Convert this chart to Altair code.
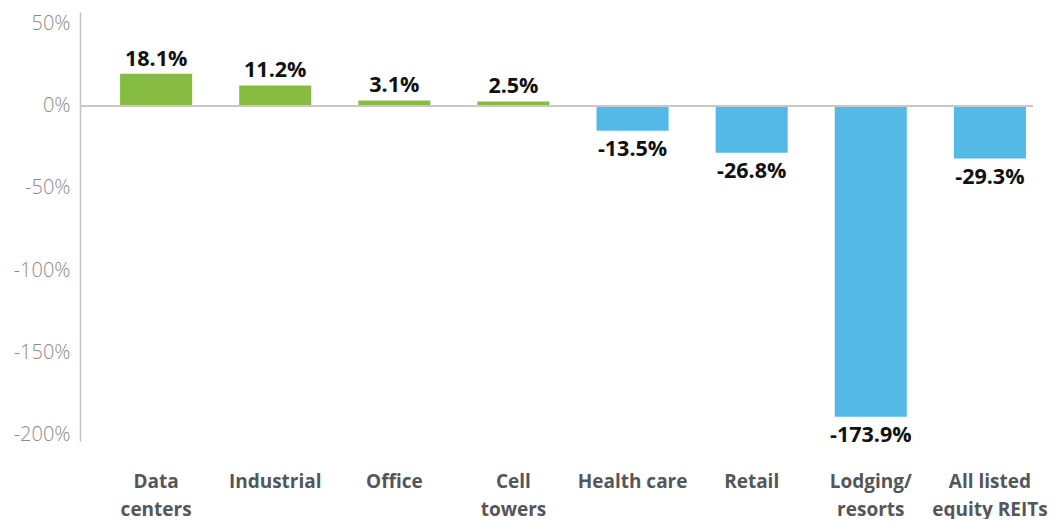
import altair as alt
import pandas as pd

categories = ["Data\ncenters", "Industrial", "Office", "Cell\ntowers",
              "Health care", "Retail", "Lodging/\nresorts", "All listed\nequity REITs"]
# bar lengths as drawn against the chart's y axis (percent)
bar_values = [19.5, 12.3, 3.2, 2.6, -15.2, -28.6, -189.2, -32.2]
# printed value labels
value_labels = ["18.1%", "11.2%", "3.1%", "2.5%", "-13.5%", "-26.8%", "-173.9%", "-29.3%"]
y_ticks = [50, 0, -50, -100, -150, -200]

df = pd.DataFrame({
    "category": categories,
    "value": bar_values,
    "label": value_labels,
})
df["sign"] = ["pos" if v >= 0 else "neg" for v in bar_values]

x_enc = alt.X(
    "category:N", sort=categories, title=None,
    scale=alt.Scale(paddingInner=0.395, paddingOuter=0.198, align=0.85),
    axis=alt.Axis(
        orient="bottom", domain=False, ticks=False, labelAngle=0,
        labelExpr="split(datum.label, '\\n')",
        labelFont="Open Sans", labelFontWeight="bold", labelFontSize=19,
        labelColor="#53565a", labelLineHeight=28, labelPadding=31,
        labelBaseline="top",
    ),
)
y_scale = alt.Scale(domain=[-204, 57], nice=False, zero=False)

bars = alt.Chart(df).mark_bar().encode(
    x=x_enc,
    y=alt.Y(
        "value:Q", scale=y_scale, title=None,
        axis=alt.Axis(
            values=y_ticks, labelExpr="datum.value + '%'",
            grid=False, ticks=False, domain=True, domainColor="#c4c4c4",
            domainWidth=1.5, labelFont="Open Sans", labelFontWeight=300,
            labelFontSize=20, labelColor="#8a8a8a", labelPadding=10,
        ),
    ),
    color=alt.Color("sign:N", scale=alt.Scale(domain=["pos", "neg"],
                                              range=["#86bc40", "#55b9e8"]),
                    legend=None),
)

zero = alt.Chart(df).mark_rule(color="#c8c8c8", strokeWidth=1.5).encode(
    y=alt.datum(0)
)

text_common = dict(font="Open Sans", fontWeight="bold", fontSize=21.5,
                   color="#111111", baseline="middle")
pos_text = alt.Chart(df).transform_filter("datum.value >= 0").mark_text(
    dy=-14, **text_common
).encode(x=x_enc, y=alt.Y("value:Q", scale=y_scale), text="label:N")
neg_text = alt.Chart(df).transform_filter("datum.value < 0").mark_text(
    dy=19, **text_common
).encode(x=x_enc, y=alt.Y("value:Q", scale=y_scale), text="label:N")

chart = alt.layer(bars, zero, pos_text, neg_text).properties(
    width=953, height=429,
    padding={"left": 5, "top": 4, "right": 0, "bottom": 0},
).configure_view(stroke=None)

chart.save("out.html", embed_options={"renderer": "svg", "actions": False})
